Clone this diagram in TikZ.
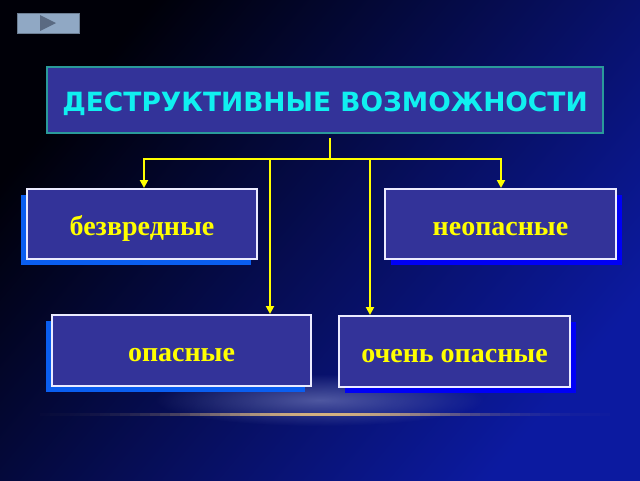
\documentclass[tikz,border=0pt]{standalone}
\usepackage{fontspec}
\setmainfont{Liberation Serif}
\newfontfamily\titlefont{DejaVu Sans}
\usetikzlibrary{arrows.meta,shadows,fadings}
\definecolor{bgdark}{HTML}{000008}
\definecolor{bgbright}{HTML}{0C1AA0}
\definecolor{boxfill}{HTML}{333399}
\definecolor{shadowL}{HTML}{0A5EF0}
\definecolor{shadowR}{HTML}{0000F5}
\definecolor{titleborder}{HTML}{2A9A9A}
\definecolor{titletext}{HTML}{10F0F0}
\definecolor{labeltext}{HTML}{FFFF00}
\definecolor{conn}{HTML}{FFFF00}
\definecolor{btnfill}{HTML}{90A8C4}
\definecolor{btnmark}{HTML}{5A6A82}
\definecolor{glow}{HTML}{8890C8}
\definecolor{goldline}{HTML}{E8C080}
\tikzfading[name=glowfade, inner color=transparent!45, outer color=transparent!100]
\begin{document}
\begin{tikzpicture}[x=1pt,y=-1pt,
  catbox/.style={draw=white!92!blue, line width=2pt, fill=boxfill, inner sep=0pt,
    text=labeltext, font=\fontsize{28}{30}\selectfont\bfseries,
    text height=22pt, text depth=0pt},
  shadowleft/.style={drop shadow={shadow xshift=-6pt, shadow yshift=-6pt, fill=shadowL, opacity=1}},
  shadowright/.style={drop shadow={shadow xshift=6pt, shadow yshift=-6pt, fill=shadowR, opacity=1}},
  titlebox/.style={draw=titleborder, line width=2pt, fill=boxfill, inner sep=0pt,
    text=titletext, font=\titlefont\bfseries\fontsize{26.5}{28}\selectfont,
    text height=22pt, text depth=0pt,
    minimum width=556pt, minimum height=66pt},
  link/.style={draw=conn, line width=2pt},
  arrowlink/.style={link, -{Triangle[length=8pt,width=8pt]}},
  button/.style={fill=btnfill, draw=btnfill!75!black, line width=0.6pt,
    minimum width=62pt, minimum height=20pt, inner sep=0pt}]
\useasboundingbox (0,0) rectangle (640,480);
% background
\shade[top color=bgdark, bottom color=bgbright, shading angle=50] (0,0) rectangle (640,480);
\fill[glow, path fading=glowfade] (320,400) ellipse [x radius=165, y radius=26];
\foreach \i in {0,...,56} {
  \pgfmathsetmacro{\op}{0.9*exp(-((\i-28)/14)^2)}
  \fill[goldline, opacity=\op] (40+\i*10,413) rectangle (50+\i*10,415.5);
}
% button
\node[button] (btn) at (48,23) {};
\fill[btnmark] (40,15) -- (40,31) -- (56,23) -- cycle;
% title
\node[titlebox] (title) at (325,100) {ДЕСТРУКТИВНЫЕ ВОЗМОЖНОСТИ};
% category boxes
\node[catbox, shadowleft, minimum width=230pt, minimum height=70pt] (b1) at (142,224) {безвредные};
\node[catbox, shadowright, minimum width=231pt, minimum height=70pt] (b2) at (500.5,224) {неопасные};
\node[catbox, shadowleft, minimum width=259pt, minimum height=71pt] (b3) at (181.5,350.5) {опасные};
\node[catbox, shadowright, minimum width=231pt, minimum height=71pt] (b4) at (454.5,351.5) {очень опасные};
% connectors
\coordinate (j) at (330,159);
\coordinate (h1) at (144,159);
\coordinate (h2) at (270,159);
\coordinate (h3) at (370,159);
\coordinate (h4) at (501,159);
\draw[link] ([xshift=5pt,yshift=-4pt]title.south) -- (j);
\draw[link] ([xshift=-1pt]h1) -- ([xshift=1pt]h4);
\draw[arrowlink] (h1) -- (h1 |- b1.north);
\draw[arrowlink] (h4) -- (h4 |- b2.north);
\draw[arrowlink] (h2) -- (h2 |- b3.north);
\draw[arrowlink] (h3) -- (h3 |- b4.north);
\end{tikzpicture}
\end{document}
